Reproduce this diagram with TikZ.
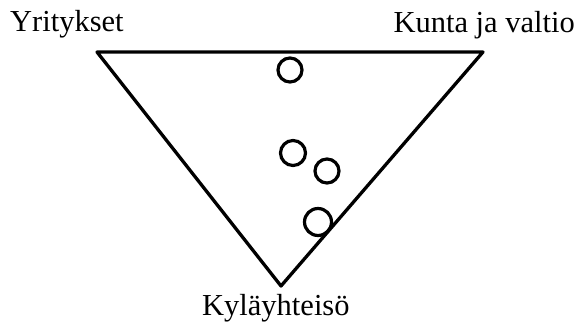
\documentclass[tikz,border=0pt]{standalone}
\usepackage{fontspec}
\setmainfont{Liberation Serif}
\begin{document}
\begin{tikzpicture}[x=1pt,y=1pt,
  lbl/.style={inner sep=0pt, font=\fontsize{30.5}{36}\selectfont},
  edge/.style={line width=3.3pt, line join=round},
  blob/.style={draw, circle, line width=3.2pt, inner sep=0pt}]
\useasboundingbox (0,0) rectangle (581,327);
\coordinate (tl) at (97,275);
\coordinate (tr) at (483,275);
\coordinate (bt) at (281,41);
\draw[edge] (tl) -- (tr) -- (bt) -- cycle;
\node[lbl, anchor=base west] (yr) at (10,295) {Yritykset};
\node[lbl, anchor=base east] (kv) at (575,294) {Kunta ja valtio};
\node[lbl, anchor=base west] (ky) at (202,12) {Kyläyhteisö};
\node[blob, minimum size=24pt] (c1) at (290,257) {};
\node[blob, minimum size=25pt] (c2) at (293,174) {};
\node[blob, minimum size=24pt] (c3) at (327,156) {};
\node[blob, minimum size=27pt] (c4) at (318,105) {};
\end{tikzpicture}
\end{document}
